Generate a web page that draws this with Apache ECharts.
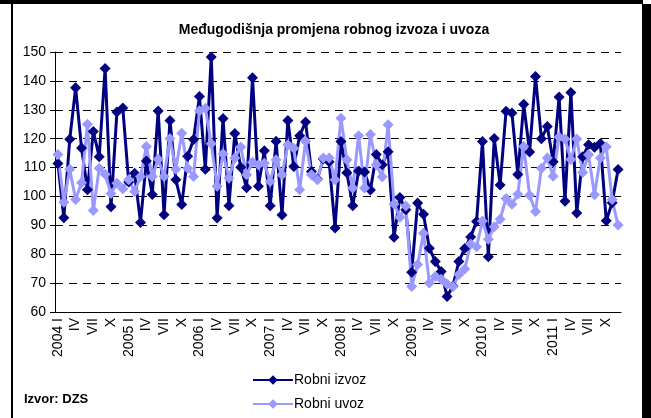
<!DOCTYPE html>
<html>
<head>
<meta charset="utf-8">
<script src="https://cdn.jsdelivr.net/npm/echarts@6/dist/echarts.min.js"></script>
<style>
  html, body { margin: 0; padding: 0; background: #fff; }
  #chart { width: 651px; height: 418px; }
</style>
</head>
<body>
<div id="chart"></div>
<script>
// godine i oznake mjeseci na osi x
const years = [2004, 2005, 2006, 2007, 2008, 2009, 2010, 2011];
const monthLabels = ["I", "", "", "IV", "", "", "VII", "", "", "X", "", ""];

// Robni izvoz (tamnoplava)
const izvoz = [
  111.4, 92.6, 119.8, 137.6, 116.8, 102.3, 122.5, 113.7, 144.3, 96.4, 129.2, 130.6,
  105, 108, 91, 112.3, 100.7, 129.6, 93.7, 126.3, 105.8, 97.2, 113.9, 119.7,
  134.6, 109.4, 148.3, 92.5, 127, 96.8, 121.8, 110.1, 103, 141.1, 103.5, 115.8,
  96.8, 119.1, 93.6, 126.3, 110.4, 121, 125.8, 108.6, 106, 113, 112, 89.1,
  119, 108.2, 96.8, 108.8, 108.5, 102.2, 114.5, 111, 115.5, 85.9, 99.6, 95.4,
  73.8, 97.7, 93.8, 82.1, 77.5, 74, 65.4, 69, 77.5, 82, 86, 91.3,
  119, 79.1, 120.1, 104, 129.5, 128.9, 107.6, 131.9, 115.4, 141.5, 120, 124.2,
  112, 134.4, 98.3, 136, 94.3, 113.7, 117.9, 117, 118.3, 91.6, 97.8, 109.3
];

// Robni uvoz (svijetloplava)
const uvoz = [
  114.5, 98, 109.4, 98.9, 104.7, 125, 95.1, 109.8, 107.7, 101, 104.6, 102.7,
  105.8, 101.7, 106.9, 117.3, 106.9, 112.9, 106.9, 120.1, 109.4, 121.9, 109.8, 106.9,
  129.7, 130.5, 118.2, 103.5, 114.8, 106.4, 113.3, 117.1, 107.5, 111.8, 111, 111.5,
  105.2, 112.7, 107.5, 117.9, 116.7, 102.3, 119.1, 107.5, 105.8, 113.3, 113.3, 105.8,
  127.1, 112.7, 102.9, 121, 102.9, 121.4, 111, 106.8, 124.8, 97.4, 92.8, 96.7,
  68.8, 76.4, 87.3, 70, 72.3, 71.3, 69.7, 68.8, 73, 74.9, 83.5, 82.6,
  91.5, 85.2, 89.5, 92.1, 99.3, 97.3, 100.8, 117.3, 100.4, 94.8, 109.8, 113.3,
  107, 120.6, 119.9, 112.8, 119.9, 108.3, 114.4, 100.6, 113.3, 117.2, 98.9, 90.1
];

const categories = [];
years.forEach(y => {
  monthLabels.forEach((m, i) => {
    categories.push(i === 0 ? y + " " + m : m);
  });
});

const font = "Arial, 'Liberation Sans', sans-serif";

const chart = echarts.init(document.getElementById("chart"), null, { renderer: "canvas" });
chart.setOption({
  backgroundColor: "#fff",
  animation: false,
  title: {
    text: "Međugodišnja promjena robnog izvoza i uvoza",
    left: 329,
    textAlign: "center",
    top: 18,
    textStyle: { fontFamily: font, fontSize: 14, fontWeight: "bold", color: "#000" }
  },
  graphic: [
    { type: "rect", shape: { x: 0, y: 0, width: 643, height: 4 }, style: { fill: "#000" } },
    { type: "rect", shape: { x: 642, y: 4, width: 9, height: 414 }, style: { fill: "#000" } },
    { type: "rect", shape: { x: 11, y: 4, width: 2, height: 414 }, style: { fill: "#000" } },
    {
      type: "text", left: 24, top: 393,
      style: { text: "Izvor: DZS", font: "bold 13px " + font, fill: "#000" }
    }
  ],
  legend: {
    orient: "vertical",
    left: 247,
    top: 368,
    itemWidth: 40,
    itemHeight: 12,
    itemGap: 10,
    textStyle: { fontFamily: font, fontSize: 14, color: "#000", padding: [0, 0, 0, -4] },
    data: ["Robni izvoz", "Robni uvoz"]
  },
  grid: { left: 55, right: 30, top: 52, bottom: 106 },
  xAxis: {
    type: "category",
    data: categories,
    boundaryGap: true,
    axisLine: { lineStyle: { color: "#000", width: 1 } },
    axisTick: { interval: 0, length: 4, lineStyle: { color: "#000" } },
    axisLabel: {
      interval: 0, rotate: 90, margin: 6,
      fontFamily: font, fontSize: 14, color: "#000"
    }
  },
  yAxis: {
    type: "value",
    min: 60, max: 150, interval: 10,
    axisLine: { show: true, lineStyle: { color: "#000", width: 1 } },
    axisTick: { show: true, length: 5, lineStyle: { color: "#000" } },
    axisLabel: { fontFamily: font, fontSize: 14, color: "#000", margin: 9 },
    splitLine: { lineStyle: { color: "#000", type: [8, 6], width: 1 } }
  },
  series: [
    {
      name: "Robni izvoz",
      type: "line",
      data: izvoz,
      symbol: "diamond",
      symbolSize: 11,
      color: "#000080",
      lineStyle: { width: 3, color: "#000080" },
      itemStyle: { color: "#000080" }
    },
    {
      name: "Robni uvoz",
      type: "line",
      data: uvoz,
      symbol: "diamond",
      symbolSize: 11,
      color: "#9999ff",
      lineStyle: { width: 3, color: "#9999ff" },
      itemStyle: { color: "#9999ff" }
    }
  ]
});
</script>
</body>
</html>
